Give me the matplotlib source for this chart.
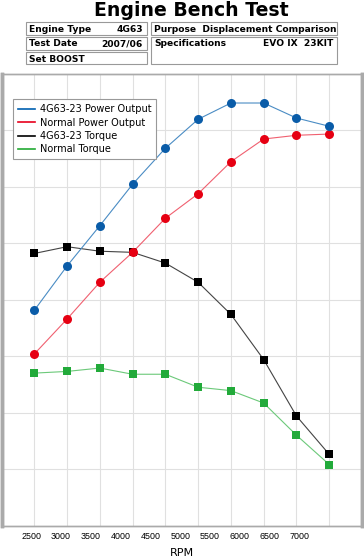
import matplotlib.pyplot as plt
import numpy as np
from matplotlib.lines import Line2D
from matplotlib.patches import Rectangle

# engine speed (rpm)
rpm = [2500, 3000, 3500, 4000, 4500, 5000, 5500, 6000, 6500, 7000]

# power output (PS)
power_4g63 = [190.6, 229.9, 265.6, 302.3, 334.2, 359.9, 374.3, 374.3, 361.0, 353.7]
power_normal = [151.9, 182.9, 215.5, 242.0, 272.2, 293.9, 322.3, 342.4, 345.7, 346.8]

# torque (kgm)
torque_4g63 = [48.2, 49.4, 48.6, 48.4, 46.5, 43.1, 37.4, 29.4, 19.4, 12.6]
torque_normal = [27.0, 27.3, 27.9, 26.8, 26.8, 24.5, 23.9, 21.7, 16.0, 10.8]

tick_labels = ['2500', '3000', '3500', '4000', '4500', '5000', '5500', '6000', '6500', '7000']

info_boxes = [
    ('Engine Type', '4G63'),
    ('Purpose', 'Displacement Comparison'),
    ('Test Date', '2007/06'),
    ('Specifications', 'EVO IX  23KIT'),
    ('Set BOOST', ''),
]

c_blue = '#0a5ca8'
c_red = '#e60012'
c_black = '#000000'
c_green = '#22aa3a'

W, H = 364, 560
fig = plt.figure(figsize=(W / 100, H / 100), dpi=100)

def fx(px):
    return px / W

def fy(py):
    return 1 - py / H

# title
fig.text(fx(191), fy(10), 'Engine Bench Test', ha='center', va='center',
         fontsize=13.6, fontweight='bold', family='DejaVu Sans')

# header boxes (x0, y0, x1, y1) in pixels
box_px = [(26, 22, 147, 35), (151, 22, 337, 35), (26, 37, 147, 50),
          (151, 37, 337, 64), (26, 52, 147, 64)]
for (label, value), (x0, y0, x1, y1) in zip(info_boxes, box_px):
    fig.patches.append(Rectangle((fx(x0), fy(y1)), fx(x1 - x0), (y1 - y0) / H,
                                 transform=fig.transFigure, fill=False,
                                 edgecolor='#999999', linewidth=0.8))
    ty = fy(y0 + 7)
    if label == 'Purpose':
        fig.text(fx(x0 + 3), ty, label + '  ' + value, ha='left', va='center',
                 fontsize=6.6, fontweight='bold')
    else:
        fig.text(fx(x0 + 3), ty, label, ha='left', va='center',
                 fontsize=6.6, fontweight='bold')
        if value:
            fig.text(fx(x1 - 4), ty, value, ha='right', va='center',
                     fontsize=6.6, fontweight='bold')

# plot area: torque on the lower axes, power on top
ax = fig.add_axes([fx(1.5), fy(525.5), fx(362) - fx(1.5), (525.5 - 74) / H])
ax2 = ax.twinx()
ax.set_zorder(ax2.get_zorder() + 1)
ax.patch.set_visible(False)

ax.set_xlim(2000, 7500)
ax.set_ylim(0, 400)
ax2.set_ylim(0, 80)

ax2.plot(rpm, torque_normal, '-', color='#6cc97a', linewidth=0.8)
ax2.plot(rpm, torque_normal, 's', color=c_green, markersize=6, markeredgewidth=0)
ax2.plot(rpm, torque_4g63, '-', color='#444444', linewidth=0.8)
ax2.plot(rpm, torque_4g63, 's', color=c_black, markersize=6, markeredgewidth=0)

ax.plot(rpm, power_normal, '-', color='#f06070', linewidth=0.8)
ax.plot(rpm, power_normal, 'o', color=c_red, markersize=6.5, markeredgewidth=0)
ax.plot(rpm, power_4g63, '-', color='#4a8cc4', linewidth=0.8)
ax.plot(rpm, power_4g63, 'o', color=c_blue, markersize=6.5, markeredgewidth=0)

# grid drawn on the lower axes so it stays under every mark
ax.set_yticks([])
ax2.set_yticks(np.arange(10, 80, 10))
ax2.set_yticklabels([])
ax2.xaxis.set_visible(True)
ax.set_xticks(rpm, minor=True)
ax2.grid(True, which='minor', axis='x', color='#e0e0e0', linewidth=0.8)
ax2.grid(True, which='major', axis='y', color='#e0e0e0', linewidth=0.8)
ax2.set_axisbelow(True)

# tick labels sit slightly compressed as in the original
tick_pos = 2000 + (np.arange(len(tick_labels)) + 1) * 5000 / 11
ax.set_xticks(tick_pos)
ax.set_xticklabels(tick_labels, fontsize=6.4, family='Liberation Sans')
ax.tick_params(axis='both', which='both', length=0, pad=5)
ax2.tick_params(axis='both', which='both', length=0,
                labelbottom=False, labeltop=False, labelleft=False, labelright=False)
ax.set_xlabel('RPM', fontsize=8, labelpad=5)

for a in (ax, ax2):
    for s in a.spines.values():
        s.set_color('#aaaaaa')
        s.set_linewidth(1)
    a.spines['left'].set_linewidth(2.5)
    a.spines['right'].set_linewidth(2.5)

handles = [Line2D([], [], color='#0060b0', linewidth=1.2),
           Line2D([], [], color='#e8001c', linewidth=1.2),
           Line2D([], [], color='#000000', linewidth=1.2),
           Line2D([], [], color='#22aa33', linewidth=1.2)]
labels = ['4G63-23 Power Output', 'Normal Power Output', '4G63-23 Torque', 'Normal Torque']
leg = ax.legend(handles, labels, loc='upper left', bbox_to_anchor=(0.031, 0.944),
                borderaxespad=0, fontsize=7, fancybox=False, framealpha=1,
                edgecolor='#999999', handlelength=1.8, handletextpad=0.5,
                labelspacing=0.35, borderpad=0.5)
leg.get_frame().set_linewidth(0.8)

fig.savefig('out.png', dpi=100)
